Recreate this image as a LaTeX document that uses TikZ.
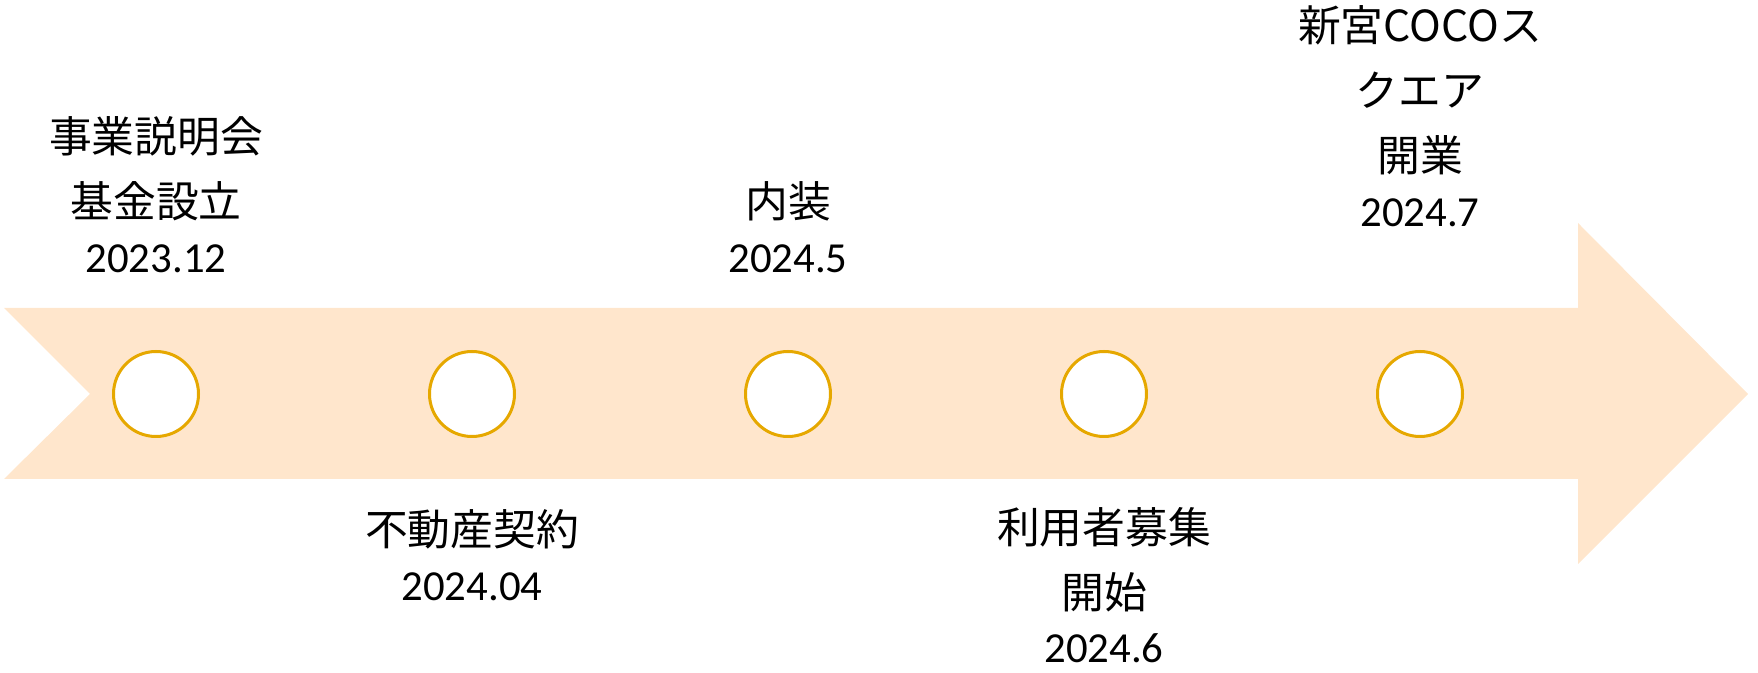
\documentclass[tikz,border=0pt]{standalone}
\usepackage{fontspec}
\setmainfont{Carlito}
\newfontfamily\jp{Noto Sans CJK JP}
\usetikzlibrary{positioning}
\definecolor{bandfill}{HTML}{FFE6CC}
\definecolor{ringgold}{HTML}{E6A800}
\tikzset{%
  band/.style={fill=bandfill,draw=none},
  stage/.style={circle,draw=ringgold,fill=white,line width=1.5pt,minimum size=42.5pt,inner sep=0pt,outer sep=0pt},
  eventtext/.style={align=center,inner sep=0pt,font=\fontsize{21.4pt}{32.5pt}\selectfont}%
}

\begin{document}
\begin{tikzpicture}[x=0.5pt,y=-0.5pt,node distance=115.5pt]
      \useasboundingbox (0,0) rectangle (1758,673);
      % the arrow
      \fill[band] (4,308) -- (1578,308) -- (1578,223) -- (1748,394) -- (1578,564)
            -- (1578,479) -- (4,479) -- (90,394) -- cycle;

      \node (m1) [stage] at (156,394) {};
      \node (m2) [stage, right=of m1] {};
      \node (m3) [stage, right=of m2] {};
      \node (m4) [stage, right=of m3] {};
      \node (m5) [stage, right=of m4] {};

      \node (briefing) [eventtext, above=39pt of m1] {{\jp 事業説明会}\\{\jp 基金設立}\\[-5pt]2023.12};
      \node (contract) [eventtext, below=36.5pt of m2] {{\jp 不動産契約}\\[-5pt]2024.04};
      \node (interior) [eventtext, above=39pt of m3] {{\jp 内装}\\[-5pt]2024.5};
      \node (recruit) [eventtext, below=35.5pt of m4] {{\jp 利用者募集}\\{\jp 開始}\\[-5.5pt]2024.6};
      \node (opening) [eventtext, above=62pt of m5] {{\jp 新宮COCOス}\\{\jp クエア}\\{\jp 開業}\\[-5pt]2024.7};

    \end{tikzpicture}
\end{document}
